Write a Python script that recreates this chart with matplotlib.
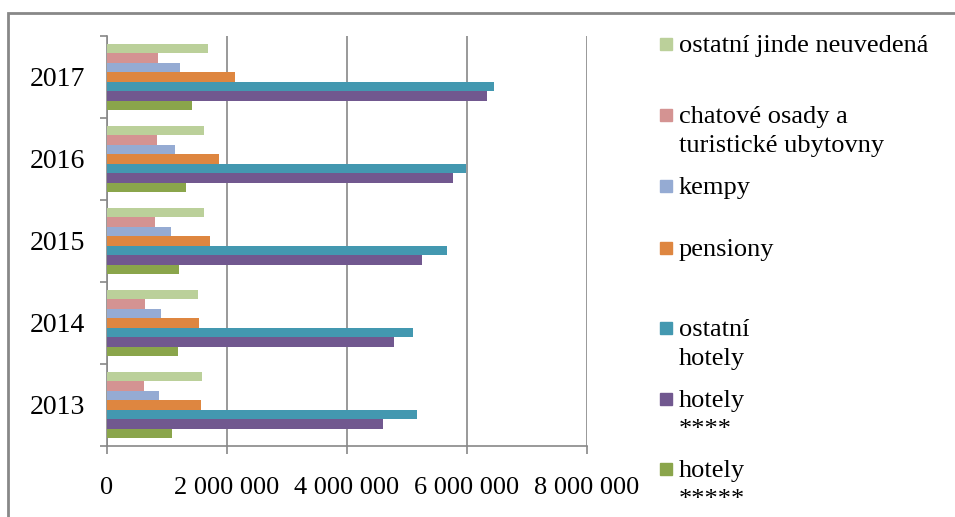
import matplotlib.pyplot as plt
import numpy as np
from matplotlib.patches import Rectangle

# nights spent by accommodation type, 2013-2017
years = ["2013", "2014", "2015", "2016", "2017"]
hotely_5 = [1.09e6, 1.18e6, 1.20e6, 1.31e6, 1.42e6]
hotely_4 = [4.60e6, 4.78e6, 5.25e6, 5.76e6, 6.34e6]
ostatni_hotely = [5.16e6, 5.10e6, 5.66e6, 5.99e6, 6.45e6]
pensiony = [1.57e6, 1.53e6, 1.71e6, 1.87e6, 2.14e6]
kempy = [0.86e6, 0.90e6, 1.07e6, 1.13e6, 1.21e6]
chatove = [0.61e6, 0.63e6, 0.795e6, 0.83e6, 0.857e6]
ostatni_jinde = [1.58e6, 1.52e6, 1.61e6, 1.61e6, 1.69e6]

series = [hotely_5, hotely_4, ostatni_hotely, pensiony, kempy, chatove, ostatni_jinde]
labels = ["hotely\n*****", "hotely\n****", "ostatní\nhotely", "pensiony", "kempy",
          "chatové osady a\nturistické ubytovny", "ostatní jinde neuvedená"]
colors = ["#8aa54b", "#71588f", "#4398b0", "#de8640", "#95abd3", "#d49392", "#bbd09a"]
xticks = [0, 2e6, 4e6, 6e6, 8e6]
xticklabels = ["0", "2 000 000", "4 000 000", "6 000 000", "8 000 000"]

W, H = 955, 517
plt.rcParams["font.family"] = ["Liberation Serif", "DejaVu Serif"]
fig = plt.figure(figsize=(W / 100, H / 100), dpi=100)

def fx(px):
    return px / W

def fy(py):
    return 1 - py / H

ax = fig.add_axes([fx(107), fy(446), fx(587) - fx(107), fy(36) - fy(446)])

y = np.arange(len(years))
bh = 0.115
n = len(series)
for i, (vals, col) in enumerate(zip(series, colors)):
    off = (i - (n - 1) / 2) * bh
    ax.barh(y + off, vals, height=bh, color=col, zorder=3, linewidth=0)

grey = "#888888"
ax.set_xlim(0, 8e6)
ax.set_ylim(-0.5, len(years) - 0.5)
ax.set_xticks(xticks)
ax.set_xticklabels(xticklabels, fontsize=19)
ax.set_yticks(y)
ax.set_yticklabels(years, fontsize=20)
ax.set_yticks(np.arange(-0.5, len(years)), minor=True)
ax.tick_params(axis="y", which="major", length=0, pad=16)
ax.tick_params(axis="y", which="minor", length=5, color=grey, width=1.2, direction="out")
ax.tick_params(axis="x", length=6, color=grey, width=1.2, pad=16)
ax.grid(axis="x", color=grey, linewidth=1.2, zorder=0)
for s in ["top", "right"]:
    ax.spines[s].set_visible(False)
for s in ["left", "bottom"]:
    ax.spines[s].set_color(grey)
    ax.spines[s].set_linewidth(1.2)

# legend, top to bottom; each label line drawn on its own baseline
leg_base = [52, 123, 194, 256, 336, 407, 477]
line_gap = 29
for lab, col, yb in zip(labels[::-1], colors[::-1], leg_base):
    fig.patches.append(Rectangle((fx(660), fy(yb - 2)), fx(12), fy(0) - fy(12),
                                 transform=fig.transFigure, color=col))
    for k, line in enumerate(lab.split("\n")):
        fig.text(fx(679), fy(yb + k * line_gap), line, fontsize=19,
                 va="baseline", ha="left")

# outer frame (only top and left edges fall inside the figure)
fig.patches.append(Rectangle((fx(8), -0.2), 1.2, fy(13) + 0.2, transform=fig.transFigure,
                             fill=False, edgecolor="#888888", linewidth=2))

fig.savefig("out.png", dpi=100)
